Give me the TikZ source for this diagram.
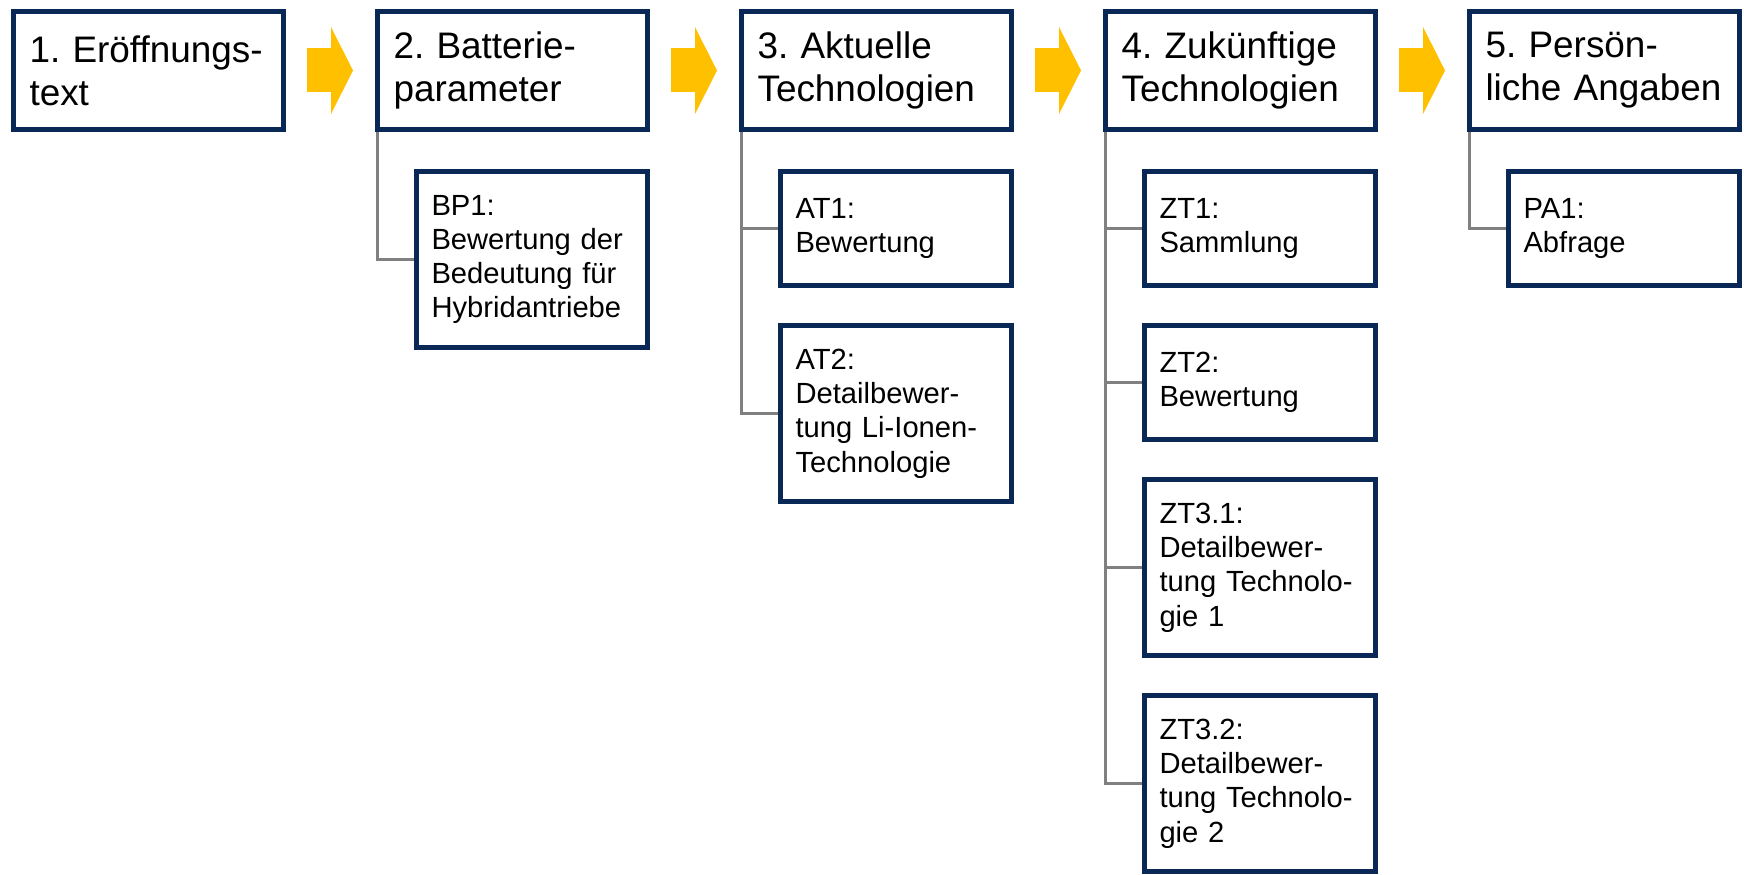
\documentclass[tikz,border=0pt]{standalone}
\usepackage{fontspec}
\setmainfont{Liberation Sans}
\usepackage{tikz}
\usetikzlibrary{positioning,arrows.meta}
\definecolor{navy}{RGB}{10,40,85}
\definecolor{gold}{RGB}{255,192,0}
\definecolor{linegray}{RGB}{128,128,128}
\frenchspacing
\tikzset{%
  main box/.style={
    draw=navy,
    line width=0.1cm,
    minimum width=5.4cm,
    minimum height=2.36cm,
    text width=4.76cm,
    inner xsep=0.32cm,
    align=left,
    font=\fontsize{21}{24.5}\selectfont
  },
  sub box/.style={
    draw=navy,
    line width=0.1cm,
    minimum width=4.62cm,
    minimum height=2.28cm,
    text width=4.02cm,
    inner xsep=0.3cm,
    align=left,
    font=\fontsize{16.6}{19.5}\selectfont
  },
  tall box/.style={
    minimum height=3.52cm
  },
  flow/.style={
    gold,
    line width=0.88cm,
    shorten <=0.42cm,
    shorten >=0.44cm,
    -{Triangle[length=0.44cm,width=1.74cm,line width=0pt]}
  },
  branch/.style={
    linegray,
    line width=0.066cm
  },
}

\begin{document}
\begin{tikzpicture}[node distance=1.78cm]
\useasboundingbox (0,0) rectangle (34.88,-17.5);

\node[main box] (eroeff) at (2.97,-1.41) {1. Eröffnungs-\\text};
\node[main box, right=of eroeff] (batt) {2. Batterie-\\parameter};
\node[main box, right=of batt] (akt) {3. Aktuelle\\Technologien};
\node[main box, right=of akt] (zuk) {4. Zukünftige\\Technologien};
\node[main box, right=of zuk] (pers) {5. Persön-\\liche Angaben};

\draw[flow] (eroeff) -- (batt);
\draw[flow] (batt) -- (akt);
\draw[flow] (akt) -- (zuk);
\draw[flow] (zuk) -- (pers);

% Batterieparameter
\node[sub box, tall box, anchor=north east] (bp1) at ([yshift=-0.74cm]batt.south east) {BP1:\\Bewertung der\\Bedeutung für\\Hybridantriebe};
\draw[branch] ([xshift=0.05cm]batt.south west) |- (bp1.west);

% Aktuelle Technologien
\node[sub box, anchor=north east] (at1) at ([yshift=-0.74cm]akt.south east) {AT1:\\Bewertung};
\node[sub box, tall box, below=0.7cm of at1] (at2) {AT2:\\Detailbewer-\\tung Li-Ionen-\\Technologie};
\draw[branch] ([xshift=0.05cm]akt.south west) |- (at1.west);
\draw[branch] ([xshift=0.05cm]akt.south west) |- (at2.west);

% Zukuenftige Technologien
\node[sub box, anchor=north east] (zt1) at ([yshift=-0.74cm]zuk.south east) {ZT1:\\Sammlung};
\node[sub box, below=0.7cm of zt1] (zt2) {ZT2:\\Bewertung};
\node[sub box, tall box, below=0.7cm of zt2] (zt31) {ZT3.1:\\Detailbewer-\\tung Technolo-\\gie 1};
\node[sub box, tall box, below=0.7cm of zt31] (zt32) {ZT3.2:\\Detailbewer-\\tung Technolo-\\gie 2};
\draw[branch] ([xshift=0.05cm]zuk.south west) |- (zt1.west);
\draw[branch] ([xshift=0.05cm]zuk.south west) |- (zt2.west);
\draw[branch] ([xshift=0.05cm]zuk.south west) |- (zt31.west);
\draw[branch] ([xshift=0.05cm]zuk.south west) |- (zt32.west);

% Persoenliche Angaben
\node[sub box, anchor=north east] (pa1) at ([yshift=-0.74cm]pers.south east) {PA1:\\Abfrage};
\draw[branch] ([xshift=0.05cm]pers.south west) |- (pa1.west);
\end{tikzpicture}
\end{document}
